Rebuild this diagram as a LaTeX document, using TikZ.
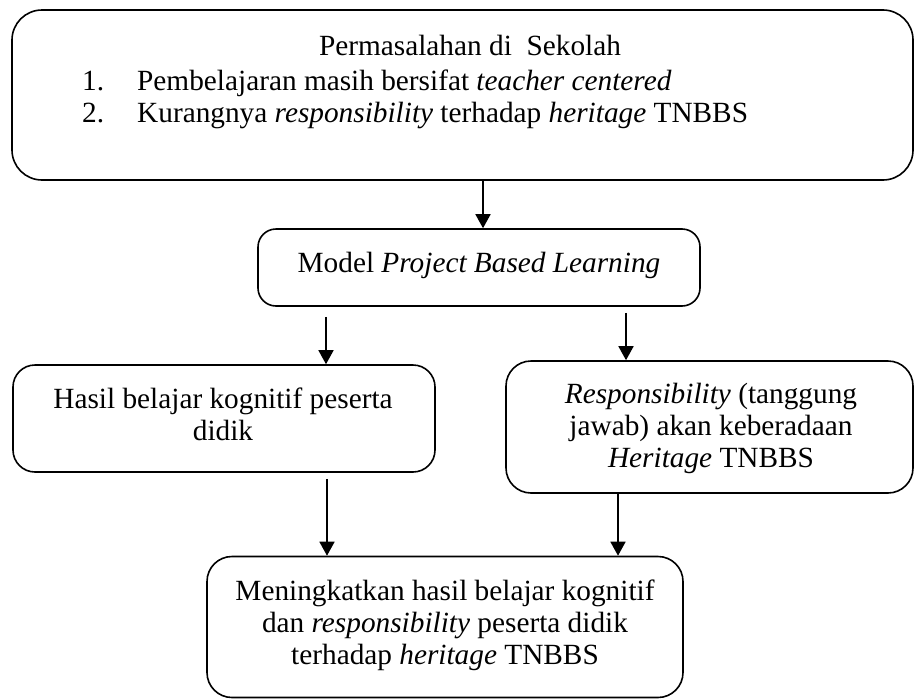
\documentclass[tikz,border=0pt]{standalone}
\usepackage{fontspec}
\setmainfont{Liberation Serif}
\usetikzlibrary{arrows.meta,calc}
\begin{document}
\begin{tikzpicture}[x=1pt,y=-1pt,
  box/.style={draw, line width=1.6pt, rectangle, inner sep=0pt},
  lbl/.style={inner sep=0pt, align=center, font=\fontsize{29.3}{32}\selectfont},
  arr/.style={line width=1.6pt, -{Triangle[width=15pt,length=14pt]}}]
\useasboundingbox (0,0) rectangle (915,699);
% boxes
\node[box, rounded corners=30pt, minimum width=901pt, minimum height=170pt] (top) at (462.5,95) {};
\node[box, rounded corners=18pt, minimum width=442pt, minimum height=77pt] (model) at (479,267.5) {};
\node[box, rounded corners=22pt, minimum width=422pt, minimum height=107pt] (left) at (224,418.5) {};
\node[box, rounded corners=25pt, minimum width=407pt, minimum height=132pt] (right) at (709.5,427) {};
\node[box, rounded corners=25pt, minimum width=476pt, minimum height=141pt] (bottom) at (445,627) {};
% texts (base anchor of a multi-line node = baseline of its last line)
\node[lbl, anchor=base] (ttitle) at (470,55) {Permasalahan di\ \ Sekolah};
\node[lbl, align=left, anchor=base west] (tlist) at (82,122) {\makebox[55pt][l]{1.}Pembelajaran masih bersifat \textit{teacher centered}\\\makebox[55pt][l]{2.}Kurangnya \textit{responsibility} terhadap \textit{heritage} TNBBS};
\node[lbl, anchor=base] (tmodel) at (479,272) {Model \textit{Project Based Learning}};
\node[lbl, anchor=base] (tleft) at (223,440) {Hasil belajar kognitif peserta\\didik};
\node[lbl, anchor=base] (tright) at (711,467) {\textit{Responsibility} (tanggung\\jawab) akan keberadaan\\\textit{Heritage} TNBBS};
\node[lbl, anchor=base] (tbottom) at (445,664) {Meningkatkan hasil belajar kognitif\\dan \textit{responsibility} peserta didik\\terhadap \textit{heritage} TNBBS};
% arrow columns
\coordinate (c0) at (483,0);
\coordinate (c1) at (326,0);
\coordinate (c2) at (626,0);
\coordinate (c3) at (327,0);
\coordinate (c4) at (618,0);
\draw[arr] (top.south -| c0) -- (model.north -| c0);
\draw[arr] ($(model.south -| c1)+(0,10)$) -- (left.north -| c1);
\draw[arr] ($(model.south -| c2)+(0,6)$) -- (right.north -| c2);
\draw[arr] ($(left.south -| c3)+(0,6)$) -- (bottom.north -| c3);
\draw[arr] (right.south -| c4) -- (bottom.north -| c4);
\end{tikzpicture}
\end{document}
